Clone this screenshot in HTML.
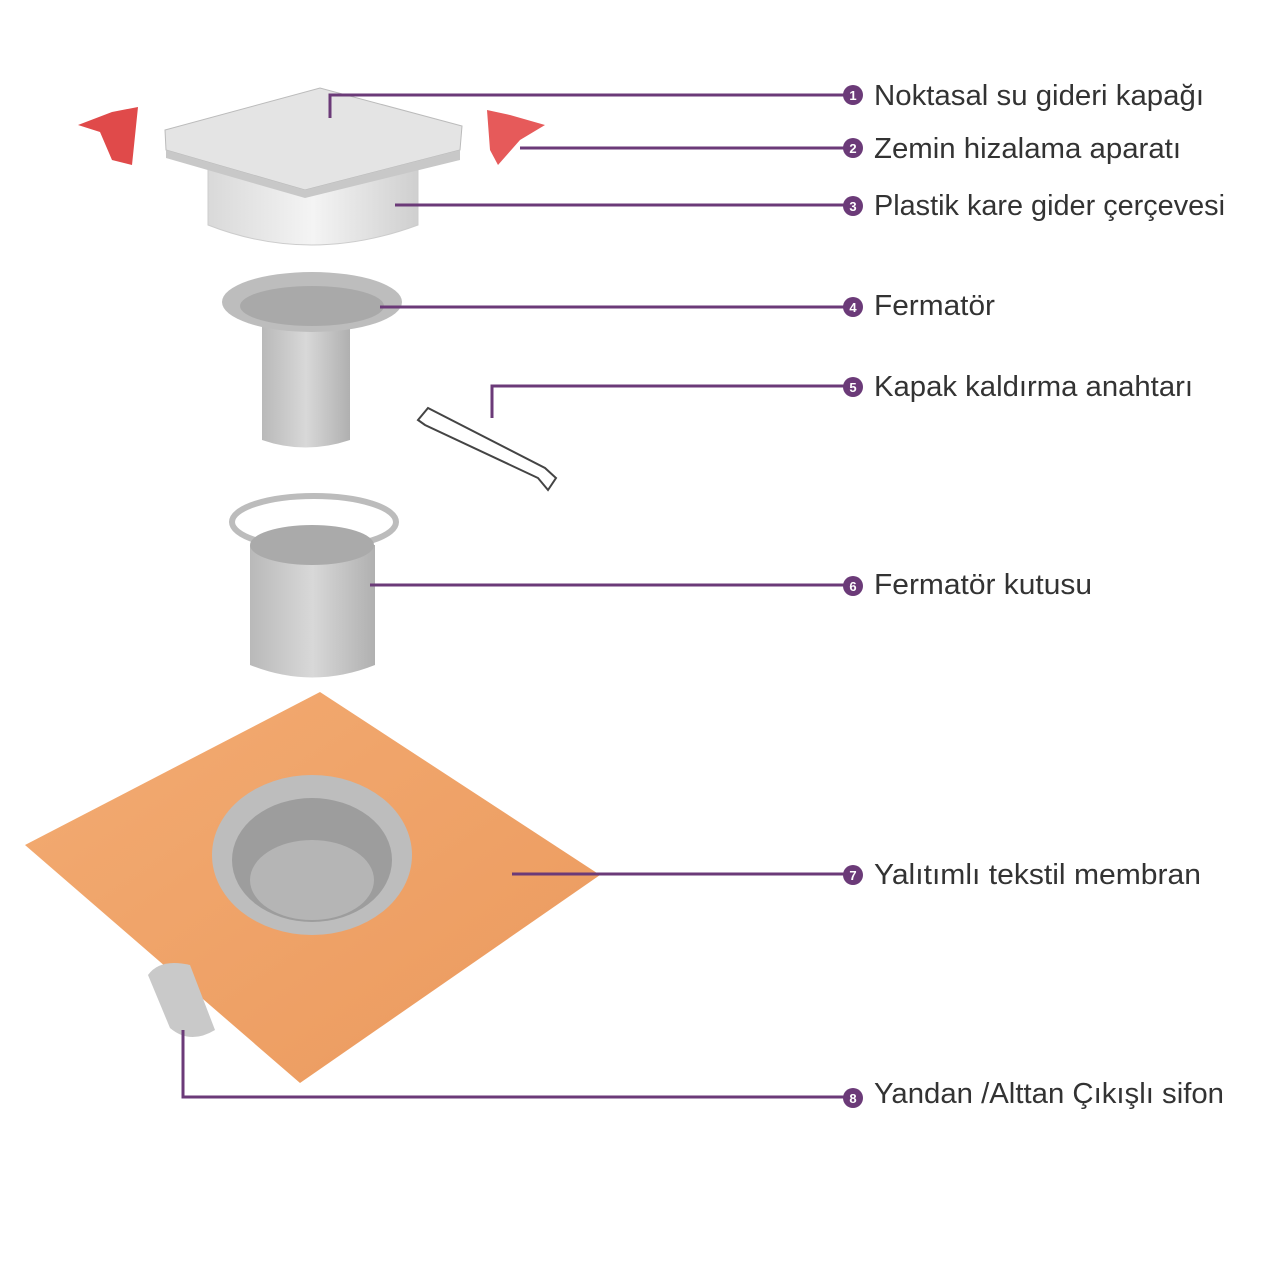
<!DOCTYPE html>
<html><head><meta charset="utf-8"><style>
html,body{margin:0;padding:0;background:#fff;}
svg{display:block}
text{font-family:"Liberation Sans",sans-serif;}
</style></head><body>
<svg width="1280" height="1280" viewBox="0 0 1280 1280" xmlns="http://www.w3.org/2000/svg">
<defs>
<linearGradient id="g1" x1="0" x2="1"><stop offset="0" stop-color="#d9d9d9"/><stop offset=".5" stop-color="#f4f4f4"/><stop offset="1" stop-color="#cfcfcf"/></linearGradient>
<linearGradient id="g2" x1="0" x2="1"><stop offset="0" stop-color="#b9b9b9"/><stop offset=".5" stop-color="#d8d8d8"/><stop offset="1" stop-color="#b0b0b0"/></linearGradient>
<linearGradient id="or" x1="0" y1="0" x2="1" y2="1"><stop offset="0" stop-color="#f3ab72"/><stop offset="1" stop-color="#eb9a5e"/></linearGradient>
</defs>
<path d="M78 125 L112 112 L138 107 L132 165 L112 160 L100 132 Z" fill="#e04a4a"/>
<path d="M487 110 L510 115 L545 125 L520 140 L498 165 L490 150 Z" fill="#e65a5a"/>
<path d="M208 160 L208 225 Q310 265 418 225 L418 160 Z" fill="url(#g1)" stroke="#ccc"/>
<path d="M165 130 L320 88 L462 126 L460 150 L305 190 L166 150 Z" fill="#e4e4e4" stroke="#bbb"/>
<path d="M166 150 L305 190 L460 150 L460 160 L305 198 L166 158 Z" fill="#c8c8c8"/>
<path d="M262 320 L262 440 Q305 455 350 440 L350 320 Z" fill="url(#g2)"/>
<ellipse cx="312" cy="302" rx="90" ry="30" fill="#bdbdbd"/>
<ellipse cx="312" cy="306" rx="72" ry="20" fill="#a9a9a9"/>
<path d="M418 420 L428 408 L545 468 L556 478 L548 490 L538 478 L425 425 Z" fill="#fff" stroke="#444" stroke-width="2"/>
<path d="M250 545 L250 665 Q312 690 375 665 L375 545 Z" fill="url(#g2)"/>
<ellipse cx="314" cy="522" rx="82" ry="26" fill="none" stroke="#bcbcbc" stroke-width="6"/>
<ellipse cx="312" cy="545" rx="62" ry="20" fill="#aaa"/>
<path d="M25 845 L320 692 L600 875 L300 1083 Z" fill="url(#or)"/>
<ellipse cx="312" cy="855" rx="100" ry="80" fill="#bdbdbd"/>
<ellipse cx="312" cy="860" rx="80" ry="62" fill="#9d9d9d"/>
<ellipse cx="312" cy="880" rx="62" ry="40" fill="#b5b5b5"/>
<path d="M148 975 Q160 958 190 965 L215 1030 Q190 1045 170 1028 Z" fill="#c9c9c9"/>
<g stroke="#6b3a78" stroke-width="3" fill="none">
<path d="M330 118 V95 H845"/>
<path d="M520 148 H845"/>
<path d="M395 205 H845"/>
<path d="M380 307 H845"/>
<path d="M492 418 V386 H845"/>
<path d="M370 585 H845"/>
<path d="M512 874 H845"/>
<path d="M183 1030 V1097 H845"/>
</g>
<g fill="#6b3a78">
<circle cx="853" cy="95" r="10"/><circle cx="853" cy="148" r="10"/><circle cx="853" cy="206" r="10"/>
<circle cx="853" cy="307" r="10"/><circle cx="853" cy="387" r="10"/><circle cx="853" cy="586" r="10"/>
<circle cx="853" cy="875" r="10"/><circle cx="853" cy="1098" r="10"/>
</g>
<g fill="#fff" font-size="13" font-weight="bold" text-anchor="middle">
<text x="853" y="100">1</text><text x="853" y="153">2</text><text x="853" y="211">3</text>
<text x="853" y="312">4</text><text x="853" y="392">5</text><text x="853" y="591">6</text>
<text x="853" y="880">7</text><text x="853" y="1103">8</text>
</g>
<g fill="#333" font-size="29" lengthAdjust="spacingAndGlyphs">
<text x="874" y="105" textLength="330" lengthAdjust="spacingAndGlyphs">Noktasal su gideri kapağı</text>
<text x="874" y="158" textLength="307" lengthAdjust="spacingAndGlyphs">Zemin hizalama aparatı</text>
<text x="874" y="215" textLength="351" lengthAdjust="spacingAndGlyphs">Plastik kare gider çerçevesi</text>
<text x="874" y="315" textLength="121" lengthAdjust="spacingAndGlyphs">Fermatör</text>
<text x="874" y="396" textLength="319" lengthAdjust="spacingAndGlyphs">Kapak kaldırma anahtarı</text>
<text x="874" y="594" textLength="218" lengthAdjust="spacingAndGlyphs">Fermatör kutusu</text>
<text x="874" y="884" textLength="327" lengthAdjust="spacingAndGlyphs">Yalıtımlı tekstil membran</text>
<text x="874" y="1103" textLength="350" lengthAdjust="spacingAndGlyphs">Yandan /Alttan Çıkışlı sifon</text>
</g>
</svg>
</body></html>
